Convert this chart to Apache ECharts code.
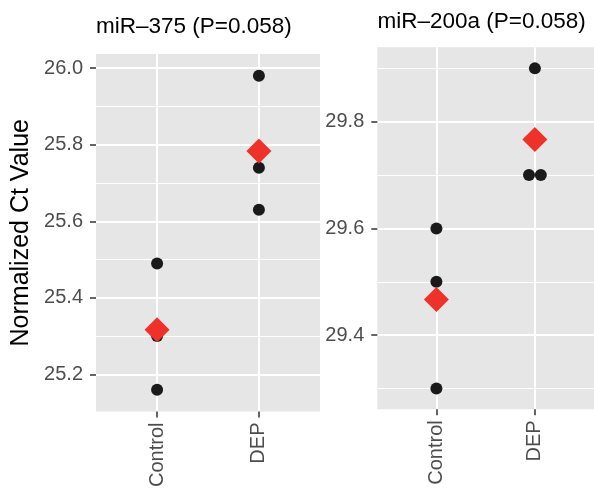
<!DOCTYPE html>
<html><head><meta charset="utf-8">
<script src="https://cdn.jsdelivr.net/npm/echarts@6/dist/echarts.min.js"></script>
<style>html,body{margin:0;padding:0;background:#fff}#c{width:594px;height:490px}</style>
</head><body><div id="c"></div>
<script>
const categories = ['Control', 'DEP'];
const categoryPositions = [1, 2];
const panelTitles = ['miR\u2013375 (P=0.058)', 'miR\u2013200a (P=0.058)'];
const yTitle = 'Normalized Ct Value';

const mir375Control = [25.49, 25.30, 25.16];
const mir375DEP = [25.98, 25.74, 25.63];
const mir200aControl = [29.60, 29.50, 29.30];
const mir200aDEP = [29.90, 29.70, 29.70];
const mir200aDEPDodge = [0, -0.06, 0.06];

const mir375Ticks = [25.2, 25.4, 25.6, 25.8, 26.0];
const mir375MinorTicks = [25.3, 25.5, 25.7, 25.9];
const mir200aTicks = [29.4, 29.6, 29.8];
const mir200aMinorTicks = [29.3, 29.5, 29.7, 29.9];

const FONT = 'Liberation Sans, Arial, Helvetica, sans-serif';
const BG = '#E6E6E6';
const mean = a => a.reduce((s, v) => s + v, 0) / a.length;

function pts(vals, x, dodge) {
  return vals.map((v, i) => [x + (dodge ? dodge[i] : 0), v]);
}

const panels = [
  { ctl: mir375Control, dep: mir375DEP, depDodge: null, ticks: mir375Ticks, minor: mir375MinorTicks,
    min: 25.103, max: 26.037, grid: { left: 96, right: 274, top: 54, bottom: 78.3 } },
  { ctl: mir200aControl, dep: mir200aDEP, depDodge: mir200aDEPDodge, ticks: mir200aTicks, minor: mir200aMinorTicks,
    min: 29.261, max: 29.9395, grid: { left: 377.3, right: 0, top: 47.3, bottom: 80.7 } }
];

const grids = [], xAxes = [], yAxes = [], series = [];
panels.forEach((p, i) => {
  grids.push(Object.assign({ show: true, backgroundColor: BG, borderWidth: 0, containLabel: false }, p.grid));
  xAxes.push({
    type: 'value', gridIndex: i, min: 0.4, max: 2.6,
    axisLine: { show: false },
    axisTick: { show: true, length: 6, customValues: categoryPositions, lineStyle: { color: '#333333', width: 1.5 } },
    axisLabel: { show: true, customValues: categoryPositions, rotate: 90, margin: 11,
      formatter: v => categories[Math.round(v) - 1],
      color: '#4D4D4D', fontSize: 20, fontFamily: FONT },
    splitLine: { show: true, lineStyle: { color: '#FFFFFF', width: 2 } },
    minorSplitLine: { show: false }
  });
  yAxes.push({
    type: 'value', gridIndex: i, min: p.min, max: p.max,
    name: i === 0 ? yTitle : '', nameLocation: 'middle', nameGap: 62, nameRotate: 90,
    nameTextStyle: { fontSize: 25, color: '#000000', fontFamily: FONT },
    axisLine: { show: false },
    axisTick: { show: true, length: 6, customValues: p.ticks, lineStyle: { color: '#333333', width: 1.5 } },
    axisLabel: { show: true, customValues: p.ticks, margin: 13,
      formatter: v => Number(v).toFixed(1), color: '#4D4D4D', fontSize: 20, fontFamily: FONT },
    splitLine: { show: true, lineStyle: { color: '#FFFFFF', width: 2 } }
  });
  series.push({
    type: 'scatter', xAxisIndex: i, yAxisIndex: i, data: [], z: 0, zlevel: 0, silent: true,
    markLine: { silent: true, z: 0, symbol: ['none', 'none'], label: { show: false }, animation: false,
      lineStyle: { color: '#FFFFFF', width: 1, type: 'solid' },
      emphasis: { disabled: true },
      data: p.minor.map(v => ({ yAxis: v })) }
  });
  series.push({
    type: 'scatter', xAxisIndex: i, yAxisIndex: i, z: 6, symbol: 'circle', symbolSize: 12,
    itemStyle: { color: '#1A1A1A', opacity: 1 },
    data: pts(p.ctl, categoryPositions[0]).concat(pts(p.dep, categoryPositions[1], p.depDodge))
  });
  series.push({
    type: 'scatter', xAxisIndex: i, yAxisIndex: i, z: 7, symbol: 'diamond', symbolSize: 25,
    itemStyle: { color: '#EE3129', opacity: 1 },
    data: [[categoryPositions[0], mean(p.ctl)], [categoryPositions[1], mean(p.dep)]]
  });
});

const chart = echarts.init(document.getElementById('c'), null, { renderer: 'canvas' });
chart.setOption({
  animation: false,
  backgroundColor: '#FFFFFF',
  title: [
    { text: panelTitles[0], left: 96, top: 15, padding: 0,
      textStyle: { fontSize: 22.5, fontWeight: 'normal', color: '#000000', fontFamily: FONT } },
    { text: panelTitles[1], left: 377.5, top: 10.5, padding: 0,
      textStyle: { fontSize: 22.5, fontWeight: 'normal', color: '#000000', fontFamily: FONT } }
  ],
  grid: grids, xAxis: xAxes, yAxis: yAxes, series: series
});
</script></body></html>
